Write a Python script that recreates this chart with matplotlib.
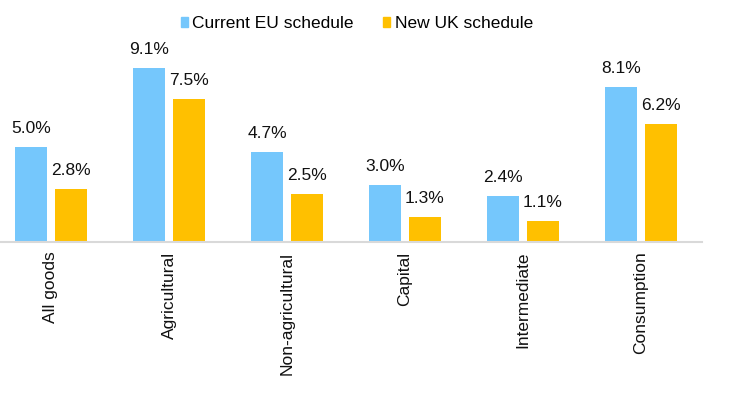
import numpy as np
import matplotlib.pyplot as plt
from matplotlib.patches import Patch

# ==============================
# DATA
# ==============================
categories = ["All goods", "Agricultural", "Non-agricultural", "Capital", "Intermediate", "Consumption"]
eu_values = [5.0, 9.1, 4.7, 3.0, 2.4, 8.1]
uk_values = [2.8, 7.5, 2.5, 1.3, 1.1, 6.2]
series_names = ["Current EU schedule", "New UK schedule"]

BLUE = "#75C7FC"
ORANGE = "#FFC000"
FS = 12.5

plt.rcParams["font.family"] = ["Liberation Sans", "DejaVu Sans"]
plt.rcParams["font.size"] = FS

W, H = 734, 396
fig = plt.figure(figsize=(W / 100, H / 100), dpi=100)
# axes from x=0..702 px, y=0..242 px (top-down)
ax = fig.add_axes([0, 1 - 242 / H, 702 / W, 242 / H])

x = np.arange(len(categories))
bw = 0.27
off = 0.168
b1 = ax.bar(x - off, eu_values, bw, color=BLUE)
b2 = ax.bar(x + off, uk_values, bw, color=ORANGE)

# value labels above bars
for bars, vals in [(b1, eu_values), (b2, uk_values)]:
    for r, v in zip(bars, vals):
        ax.annotate(f"{v:.1f}%", (r.get_x() + r.get_width() / 2, v),
                    xytext=(0, 10), textcoords="offset points",
                    ha="center", va="baseline", fontsize=FS, color="#111111")

ax.set_xlim(-0.432, 5.517)
ax.set_ylim(0, 242 / 19.1)
ax.set_xticks(x)
ax.set_xticklabels(categories, rotation=90, va="top", ha="center")
ax.tick_params(axis="x", length=0, pad=7, colors="#111111")
ax.set_yticks([])
for s in ["top", "right", "left"]:
    ax.spines[s].set_visible(False)
ax.spines["bottom"].set_color("#D9D9D9")
ax.spines["bottom"].set_linewidth(1.5)

handles = [Patch(color=BLUE), Patch(color=ORANGE)]
fig.legend(handles, series_names, loc="center", bbox_to_anchor=(357 / W, 1 - 23.5 / H),
           ncol=2, frameon=False, fontsize=FS, handlelength=0.4, handleheight=0.52,
           handletextpad=0.25, columnspacing=1.7, borderpad=0)

fig.savefig("out.png", dpi=100)
